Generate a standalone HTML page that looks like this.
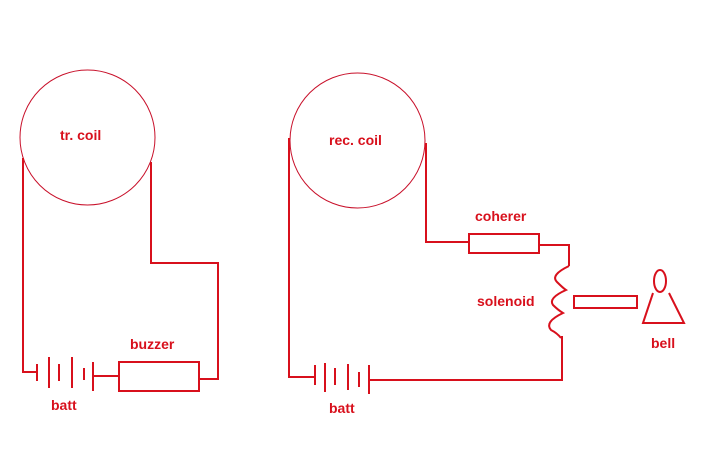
<!DOCTYPE html>
<html><head><style>html,body{margin:0;padding:0;background:#fff}svg{display:block}
text{font-family:"Liberation Sans",sans-serif;font-weight:bold;font-size:14px;fill:#d8101c}</style></head>
<body>
<svg width="716" height="450" viewBox="0 0 716 450" xmlns="http://www.w3.org/2000/svg">
<g fill="none" stroke="#d8101c" stroke-width="2">
<circle cx="87.5" cy="137.5" r="67.5" stroke-width="1" stroke="#c8102a"/>
<circle cx="357.5" cy="140.5" r="67.5" stroke-width="1" stroke="#c8102a"/>
<!-- left circuit -->
<polyline points="23,158 23,372 37,372"/>
<line x1="37" y1="364" x2="37" y2="381"/>
<line x1="49" y1="357" x2="49" y2="388"/>
<line x1="59" y1="364" x2="59" y2="381"/>
<line x1="72" y1="357" x2="72" y2="388"/>
<line x1="84" y1="368" x2="84" y2="380"/>
<line x1="93" y1="362" x2="93" y2="391"/>
<line x1="93" y1="376" x2="119" y2="376"/>
<rect x="119" y="362" width="80" height="29"/>
<polyline points="199,379 218,379 218,263 151,263 151,162"/>
<!-- right circuit -->
<polyline points="289,138 289,377 315,377"/>
<line x1="315" y1="365" x2="315" y2="385"/>
<line x1="325" y1="363" x2="325" y2="392"/>
<line x1="335" y1="368" x2="335" y2="385"/>
<line x1="348" y1="364" x2="348" y2="390"/>
<line x1="359" y1="372" x2="359" y2="387"/>
<line x1="369" y1="365" x2="369" y2="394"/>
<polyline points="369,380 562,380 562,336"/>
<polyline points="426,143 426,242 469,242"/>
<rect x="469" y="234" width="70" height="19"/>
<polyline points="539,245 569,245 569,266"/>
<path d="M569,266 Q550,275 557,282 Q563,288 566,290 Q548,298 553,305 Q558,310 563,313 Q544,322 551,330 Q557,333 561,338"/>
<rect x="574" y="296" width="63" height="12"/>
<ellipse cx="660" cy="281" rx="6" ry="11"/>
<polyline points="653,293 643,323 684,323 669,293"/>
</g>
<text x="60" y="140">tr. coil</text>
<text x="329" y="145">rec. coil</text>
<text x="475" y="221">coherer</text>
<text x="477" y="306">solenoid</text>
<text x="651" y="348">bell</text>
<text x="130" y="349">buzzer</text>
<text x="51" y="410">batt</text>
<text x="329" y="413">batt</text>
</svg>
</body></html>
